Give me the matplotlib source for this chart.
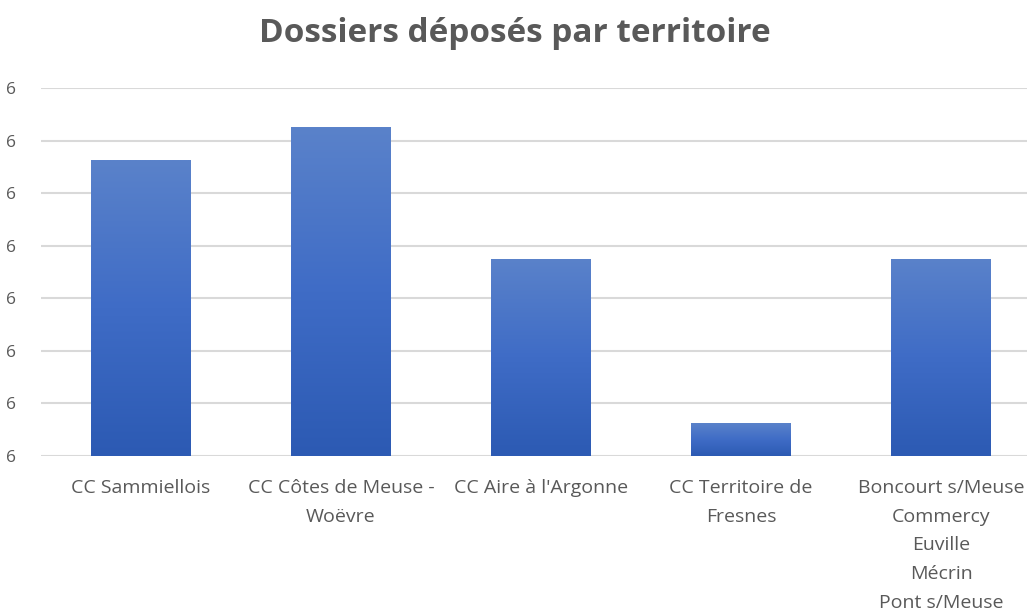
import numpy as np
import matplotlib.pyplot as plt
from matplotlib.colors import LinearSegmentedColormap

plt.rcParams['font.family'] = ['Open Sans', 'DejaVu Sans']

categories = ['CC Sammiellois', 'CC Côtes de Meuse -\nWoëvre', "CC Aire à l'Argonne",
              'CC Territoire de\nFresnes', 'Boncourt s/Meuse\nCommercy\nEuville\nMécrin\nPont s/Meuse']
values = [9, 10, 6, 1, 6]
yticks = [0, 1.6, 3.2, 4.8, 6.4, 8.0, 9.6, 11.2]
ytick_labels = ['6'] * len(yticks)

fig = plt.figure(figsize=(10.27, 6.10), dpi=100)
ax = fig.add_axes([41 / 1027, 154 / 610, 1000 / 1027, 368 / 610])

x = np.arange(len(categories))
bars = ax.bar(x, values, width=0.5, color='#4472C4', zorder=2)

# vertical gradient on each bar, lighter at the top
cmap = LinearSegmentedColormap.from_list('g', ['#2C5AB3', '#3F6CC6', '#5A82CA'])
grad = np.linspace(0, 1, 256).reshape(-1, 1)
for b in bars:
    x0, y0 = b.get_x(), b.get_y()
    w, h = b.get_width(), b.get_height()
    im = ax.imshow(grad, cmap=cmap, origin='lower', aspect='auto',
                   extent=[x0, x0 + w, y0, y0 + h], zorder=3)
    im.set_clip_path(b)

ax.set_xlim(-0.5, len(categories) - 0.5)
ax.set_ylim(0, 11.2)
ax.set_yticks(yticks)
ax.set_yticklabels(ytick_labels)
ax.set_xticks(x)
ax.set_xticklabels(categories, linespacing=1.77)
ax.yaxis.grid(True, color='#D9D9D9', linewidth=1.5, zorder=0)
ax.set_axisbelow(True)
for s in ax.spines.values():
    s.set_visible(False)
ax.tick_params(axis='both', length=0, colors='#595959', labelsize=14)
ax.tick_params(axis='y', labelsize=12.5)
ax.tick_params(axis='x', pad=16.5)
ax.tick_params(axis='y', pad=18)

fig.text(515 / 1027, 1 - 34 / 610, 'Dossiers déposés par territoire', ha='center', va='center',
         fontsize=24, fontweight='bold', color='#595959')

fig.savefig('out.png', dpi=100)
